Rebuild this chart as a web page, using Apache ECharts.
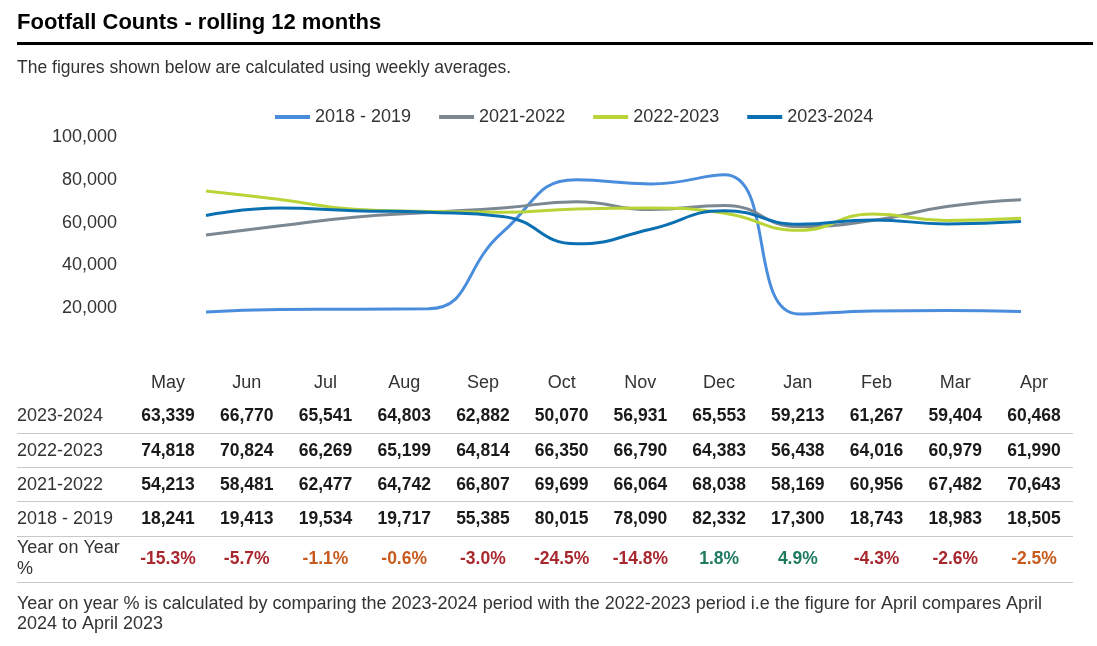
<!DOCTYPE html>
<html><head><meta charset="utf-8">
<script src="https://cdn.jsdelivr.net/npm/echarts@6/dist/echarts.min.js"></script>
<style>html,body{margin:0;padding:0;background:#fff}#c{width:1097px;height:646px}</style>
</head><body><div id="c"></div>
<script>
var months = ['May','Jun','Jul','Aug','Sep','Oct','Nov','Dec','Jan','Feb','Mar','Apr'];
var seriesNames = ['2018 - 2019','2021-2022','2022-2023','2023-2024'];
var s1819 = [18241,19413,19534,19717,55385,80015,78090,82332,17300,18743,18983,18505];
var s2122 = [54213,58481,62477,64742,66807,69699,66064,68038,58169,60956,67482,70643];
var s2223 = [74818,70824,66269,65199,64814,66350,66790,64383,56438,64016,60979,61990];
var s2324 = [63339,66770,65541,64803,62882,50070,56931,65553,59213,61267,59404,60468];
var yoy = [-15.3,-5.7,-1.1,-0.6,-3.0,-24.5,-14.8,1.8,4.9,-4.3,-2.6,-2.5];
var yTicks = [0,20000,40000,60000,80000,100000];

var FONT = 'Liberation Sans, Arial, sans-serif';
var FS = 18;
var colors = ['#4a8ddc','#7b8892','#b8d437','#0b70b2'];
function fmt(v){ return Number(v).toLocaleString('en-US'); }
function cls(v){ return v >= 0 ? 'g' : (v > -2.55 ? 'o' : 'r'); }

var rows = [
  {name:'', data: months, bold:false, off:73},
  {name:'2023-2024', data: s2324.map(fmt), bold:true, off:106},
  {name:'2022-2023', data: s2223.map(fmt), bold:true, off:141},
  {name:'2021-2022', data: s2122.map(fmt), bold:true, off:175},
  {name:'2018 - 2019', data: s1819.map(fmt), bold:true, off:209}
];

var xAxes = [{
  type:'category', gridIndex:0, data: months, boundaryGap:false,
  axisLine:{show:false}, axisTick:{show:false}, axisLabel:{show:false}
}];
rows.forEach(function(r){
  xAxes.push({
    type:'category', gridIndex:1, data:r.data, position:'bottom', offset:r.off,
    axisLine:{show:false}, axisTick:{show:false}, splitLine:{show:false},
    name:r.name, nameLocation:'start', nameGap:111.6,
    nameTextStyle:{align:'left', verticalAlign:'middle', fontSize:FS, color:'#333', fontFamily:FONT},
    axisLabel:{interval:0, margin:0, verticalAlign:'middle', fontSize: r.bold ? 17.5 : FS, fontFamily:FONT,
      color: r.bold ? '#1a1a1a' : '#333', fontWeight: r.bold ? 'bold' : 'normal'}
  });
});
xAxes.push({
  type:'category', gridIndex:1, data: yoy.map(function(v){return v.toFixed(1);}), position:'bottom', offset:249,
  axisLine:{show:false}, axisTick:{show:false}, splitLine:{show:false},
  name:'Year on Year\n%', nameLocation:'start', nameGap:111.6,
  nameTextStyle:{align:'left', verticalAlign:'middle', fontSize:FS, lineHeight:21, color:'#333', fontFamily:FONT, padding:[4,0,0,0]},
  axisLabel:{interval:0, margin:0, verticalAlign:'middle', fontFamily:FONT,
    formatter:function(v){ return '{'+cls(parseFloat(v))+'|'+v+'%}'; },
    rich:{
      r:{color:'#a8282f', fontWeight:'bold', fontSize:17.5, fontFamily:FONT},
      o:{color:'#c85a1e', fontWeight:'bold', fontSize:17.5, fontFamily:FONT},
      g:{color:'#1f7b5f', fontWeight:'bold', fontSize:17.5, fontFamily:FONT}
    }}
});

var lineSets = [s1819, s2122, s2223, s2324];
var series = lineSets.map(function(d,i){
  return {name:seriesNames[i], type:'line', xAxisIndex:0, yAxisIndex:0, data:d,
    smooth:0.5, symbol:'none', lineStyle:{width:3, color:colors[i]}, itemStyle:{color:colors[i]}};
});

var sepY = [433,467,501,536,582];
var graphics = [
  {type:'text', left:17, top:12, style:{text:'Footfall Counts - rolling 12 months', fontSize:22, fontWeight:'bold', fill:'#000', fontFamily:FONT}},
  {type:'rect', shape:{x:17, y:42, width:1076, height:3}, style:{fill:'#000'}},
  {type:'text', left:17, top:59, style:{text:'The figures shown below are calculated using weekly averages.', fontSize:17.5, fill:'#333', fontFamily:FONT}},
  {type:'text', left:17, top:594, style:{text:'Year on year % is calculated by comparing the 2023-2024 period with the 2022-2023 period i.e the figure for April compares April\n2024 to April 2023', fontSize:FS, lineHeight:20, fill:'#333', fontFamily:FONT}}
];
sepY.forEach(function(y){
  graphics.push({type:'line', shape:{x1:17, y1:y+0.5, x2:1073, y2:y+0.5}, style:{stroke:'#c9c9c9', lineWidth:1}});
});

var chart = echarts.init(document.getElementById('c'), null, {renderer:'canvas'});
chart.setOption({
  animation:false,
  backgroundColor:'#fff',
  color: colors,
  legend:{data:seriesNames, left:270, top:103, itemWidth:35, itemHeight:4, itemGap:28, icon:'rect',
    textStyle:{fontSize:FS, color:'#333', fontFamily:FONT}},
  grid:[
    {left:206, right:76, top:137, bottom:295},
    {left:128.6, right:23.6, top:300, height:10}
  ],
  xAxis: xAxes,
  yAxis:[
    {type:'value', gridIndex:0, min:yTicks[0], max:yTicks[yTicks.length-1], interval:yTicks[1]-yTicks[0],
      axisLine:{show:false}, axisTick:{show:false}, splitLine:{show:false},
      axisLabel:{showMinLabel:false, margin:89, fontSize:FS, color:'#333', fontFamily:FONT, formatter:function(v){return fmt(v);}}},
    {type:'value', gridIndex:1, show:false, min:0, max:1}
  ],
  series: series,
  graphic: graphics
});
</script></body></html>
